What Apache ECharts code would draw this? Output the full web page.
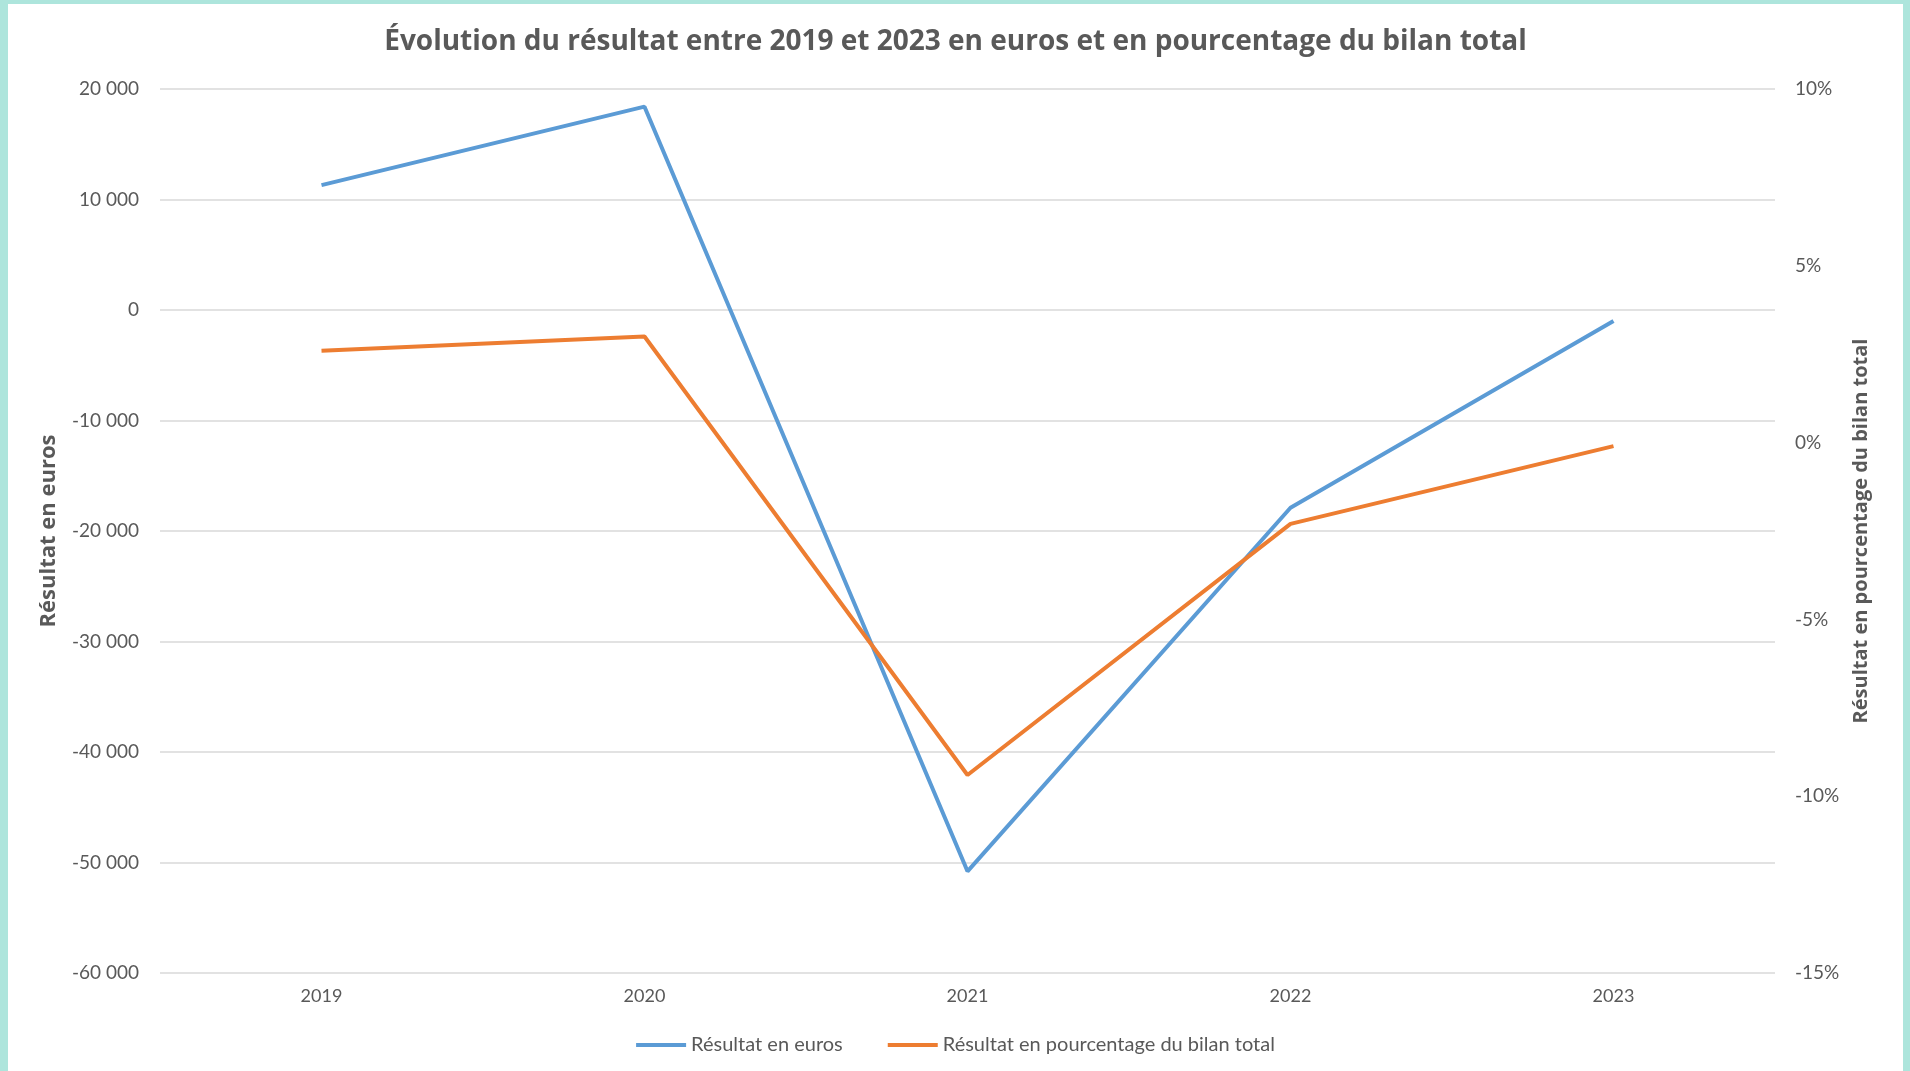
<!DOCTYPE html>
<html>
<head>
<meta charset="utf-8">
<script src="https://cdn.jsdelivr.net/npm/echarts@6/dist/echarts.min.js"></script>
<style>
    html, body { margin: 0; padding: 0; background: #ade5dc; }
    #main {
        position: absolute;
        left: 8px; top: 4px;
        width: 1895px; height: 1067px;
        background: #ffffff;
    }
</style>
</head>
<body>
<!-- cadre teal autour du graphique -->
<div id="main"></div>
<script>
    // données
    var annees = ['2019', '2020', '2021', '2022', '2023'];
    var resultatEuros = [11300, 18400, -50800, -17900, -1000];
    var resultatPourcent = [2.6, 3.0, -9.4, -2.3, -0.1];

    var bleu = '#5b9bd5';
    var orange = '#ed7d31';
    var gris = '#595959';

    function milliers(v) {
        var s = String(Math.abs(v)).replace(/\B(?=(\d{3})+(?!\d))/g, ' ');
        return (v < 0 ? '-' : '') + s;
    }

    var myChart = echarts.init(document.getElementById('main'));
    var options = {
        textStyle: { fontFamily: 'Lato' },
        title: {
            text: 'Évolution du résultat entre 2019 et 2023 en euros et en pourcentage du bilan total',
            left: 'center',
            top: 19,
            textStyle: { fontFamily: 'Open Sans', fontSize: 28, fontWeight: 'bold', color: gris }
        },
        legend: {
            bottom: 11,
            left: 'center',
            icon: 'rect',
            itemWidth: 50,
            itemHeight: 4,
            itemGap: 45,
            textStyle: { fontFamily: 'Lato', fontSize: 20, color: gris },
            data: ['Résultat en euros', 'Résultat en pourcentage du bilan total']
        },
        grid: {
            left: 152,
            right: 128,
            top: 85,
            bottom: 98
        },
        xAxis: {
            type: 'category',
            data: annees,
            axisLine: { show: false },
            axisTick: { show: false },
            axisLabel: { margin: 14, fontFamily: 'Lato', fontSize: 18, color: gris }
        },
        yAxis: [
            {
                type: 'value',
                min: -60000,
                max: 20000,
                interval: 10000,
                name: 'Résultat en euros',
                nameLocation: 'middle',
                nameGap: 100,
                nameTextStyle: { fontFamily: 'Open Sans', fontSize: 22, fontWeight: 'bold', color: gris },
                axisLine: { show: false },
                axisTick: { show: false },
                axisLabel: { margin: 21, fontFamily: 'Lato', fontSize: 19, color: gris, formatter: milliers },
                splitLine: { lineStyle: { color: '#d9d9d9', width: 1.5 } }
            },
            {
                type: 'value',
                min: -15,
                max: 10,
                interval: 5,
                position: 'right',
                name: 'Résultat en pourcentage du bilan total',
                nameLocation: 'middle',
                nameGap: 76,
                nameTextStyle: { fontFamily: 'Open Sans', fontSize: 20, fontWeight: 'bold', color: gris },
                axisLine: { show: false },
                axisTick: { show: false },
                axisLabel: { margin: 20, fontFamily: 'Lato', fontSize: 19, color: gris, formatter: '{value}%', align: 'left' },
                splitLine: { show: false }
            }
        ],
        series: [
            {
                name: 'Résultat en euros',
                type: 'line',
                yAxisIndex: 0,
                data: resultatEuros,
                showSymbol: false,
                color: bleu,
                lineStyle: { color: bleu, width: 4 }
            },
            {
                name: 'Résultat en pourcentage du bilan total',
                type: 'line',
                yAxisIndex: 1,
                data: resultatPourcent,
                showSymbol: false,
                color: orange,
                lineStyle: { color: orange, width: 4 }
            }
        ]
    };
    myChart.setOption(options);
    window.onresize = function () {
        myChart.resize();
    };
</script>
</body>
</html>
